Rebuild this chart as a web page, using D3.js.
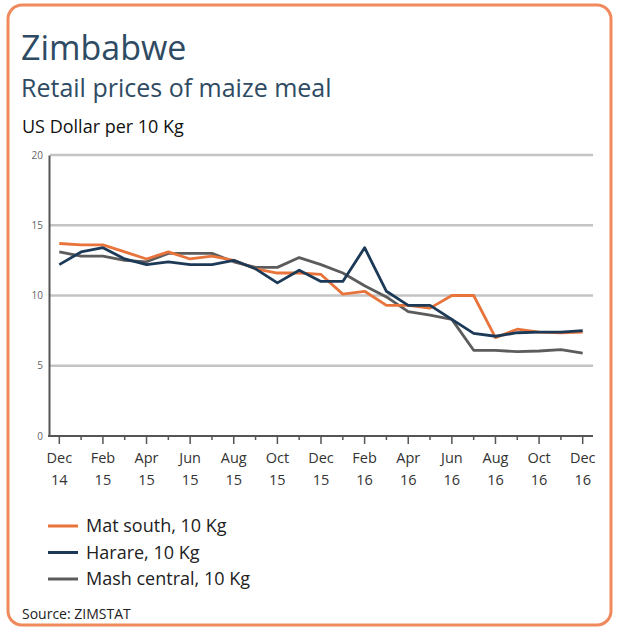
<!DOCTYPE html>
<html><head><meta charset="utf-8">
<script src="https://cdn.jsdelivr.net/npm/d3@7"></script>
<style>
html,body{margin:0;padding:0;background:#fff;}
svg{display:block;font-family:"Open Sans",sans-serif;}
</style></head>
<body><svg id="chart" width="619" height="634"></svg>
<script>
const months = ["Dec 14","Jan 15","Feb 15","Mar 15","Apr 15","May 15","Jun 15","Jul 15","Aug 15","Sep 15","Oct 15","Nov 15","Dec 15","Jan 16","Feb 16","Mar 16","Apr 16","May 16","Jun 16","Jul 16","Aug 16","Sep 16","Oct 16","Nov 16","Dec 16"];
const matSouth   = [13.7,13.6,13.6,13.1,12.6,13.1,12.6,12.8,12.5,11.9,11.6,11.6,11.5,10.1,10.3,9.3,9.3,9.1,10.0,10.0,7.0,7.6,7.4,7.35,7.4];
const harare     = [12.2,13.1,13.4,12.6,12.2,12.4,12.2,12.2,12.5,11.9,10.9,11.8,11.0,11.0,13.4,10.3,9.3,9.3,8.3,7.3,7.1,7.35,7.4,7.4,7.5];
const mashCentral= [13.1,12.8,12.8,12.5,12.4,13.0,13.0,13.0,12.4,12.0,12.0,12.7,12.2,11.6,10.7,9.9,8.85,8.6,8.3,6.1,6.1,6.0,6.05,6.15,5.9];
const yTicks = [0,5,10,15,20];
const seriesNames = ["Mat south, 10 Kg","Harare, 10 Kg","Mash central, 10 Kg"];
const seriesColors = ["#e8743b","#1c3a57","#5c5c5c"];

const svg = d3.select("#chart");
// frame
svg.append("rect").attr("x",8).attr("y",5).attr("width",603).attr("height",620)
  .attr("rx",14).attr("fill","#fff").attr("stroke","#f08a5d").attr("stroke-width",3);

svg.append("text").attr("x",21).attr("y",60).attr("font-size",34).attr("fill","#2e4b63").text("Zimbabwe");
svg.append("text").attr("x",21).attr("y",97).attr("font-size",25).attr("fill","#2e4b63").text("Retail prices of maize meal");
svg.append("text").attr("x",22).attr("y",133).attr("font-size",18).attr("fill","#111").text("US Dollar per 10 Kg");

const x = d3.scaleLinear().domain([0, months.length-1]).range([59.3, 582.7]);
const y = d3.scaleLinear().domain([0,20]).range([436,155]);

// gridlines
const g = svg.append("g");
g.selectAll("line.grid").data(yTicks.filter(d=>d>0)).join("line")
  .attr("x1",50).attr("x2",593).attr("y1",d=>y(d)).attr("y2",d=>y(d))
  .attr("stroke","#c4c4c4").attr("stroke-width",2.5);

// y axis
const yAxis = d3.axisLeft(y).tickValues(yTicks).tickSize(0).tickPadding(6);
const ya = svg.append("g").attr("transform","translate(49,0)").call(yAxis);
ya.select(".domain").attr("stroke","#555").attr("stroke-width",2);
ya.selectAll("text").attr("font-size",10).attr("fill","#666").attr("font-family","Open Sans");

// x axis
const xa = svg.append("g").attr("transform","translate(0,436)");
xa.append("line").attr("x1",48).attr("x2",593).attr("y1",0).attr("y2",0).attr("stroke","#555").attr("stroke-width",2);
xa.selectAll("line.tk").data(months).join("line")
  .attr("x1",(d,i)=>x(i)).attr("x2",(d,i)=>x(i)).attr("y1",0).attr("y2",(d,i)=>i%2===0?8:4)
  .attr("stroke","#555").attr("stroke-width",1.5);
const lbl = xa.selectAll("text.lb").data(months.filter((d,i)=>i%2===0)).join("text")
  .attr("text-anchor","middle").attr("font-size",14.5).attr("fill","#333");
lbl.append("tspan").attr("x",(d,i)=>x(i*2)).attr("y",27).text(d=>d.split(" ")[0]);
lbl.append("tspan").attr("x",(d,i)=>x(i*2)).attr("y",49).text(d=>d.split(" ")[1]);

// lines
const line = d3.line().x((d,i)=>x(i)).y(d=>y(d));
const allSeries = [matSouth, harare, mashCentral];
[2,0,1].forEach(k=>{
  svg.append("path").datum(allSeries[k]).attr("d",line).attr("fill","none")
    .attr("stroke",seriesColors[k]).attr("stroke-width",2.8).attr("stroke-linejoin","round");
});

// legend
const leg = svg.append("g");
seriesNames.forEach((n,i)=>{
  const yy = 526 + i*26.5;
  leg.append("line").attr("x1",48).attr("x2",78).attr("y1",yy).attr("y2",yy)
    .attr("stroke",seriesColors[i]).attr("stroke-width",3);
  leg.append("text").attr("x",86).attr("y",yy+6).attr("font-size",18).attr("fill","#222").text(n);
});
svg.append("text").attr("x",22).attr("y",619).attr("font-size",14).attr("fill","#222").text("Source: ZIMSTAT");
</script></body></html>
